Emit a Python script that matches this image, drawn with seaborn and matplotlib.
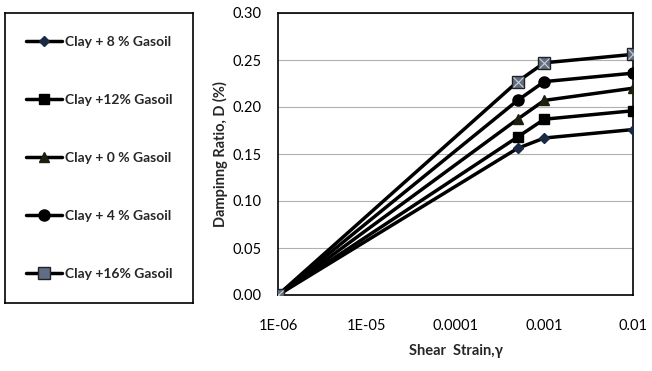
import matplotlib
matplotlib.use("Agg")
import matplotlib.pyplot as plt
import seaborn as sns
import numpy as np
import pandas as pd
from matplotlib.lines import Line2D
from matplotlib.ticker import FixedLocator, FixedFormatter

strain = [1e-6, 5e-4, 1e-3, 1e-2]
labels = ["Clay + 8 % Gasoil", "Clay +12% Gasoil", "Clay + 0 % Gasoil",
          "Clay + 4 % Gasoil", "Clay +16% Gasoil"]
d_8 = [0.0, 0.156, 0.167, 0.176]
d_12 = [0.0, 0.168, 0.187, 0.196]
d_0 = [0.0, 0.187, 0.207, 0.220]
d_4 = [0.0, 0.207, 0.227, 0.236]
d_16 = [0.0, 0.227, 0.247, 0.256]
series = [d_8, d_12, d_0, d_4, d_16]
xtick_vals = [1e-6, 1e-5, 1e-4, 1e-3, 1e-2]
xtick_labels = ["1E-06", "1E-05", "0.0001", "0.001", "0.01"]
ytick_vals = [0.00, 0.05, 0.10, 0.15, 0.20, 0.25, 0.30]

sns.set_style("white")
plt.rcParams["font.family"] = ["Lato", "DejaVu Sans"]

fig = plt.figure(figsize=(6.52, 3.71), dpi=100)
ax = fig.add_axes([278/652, 76/371, 355/652, 282/371])

styles = [
    dict(marker="D", ms=5, mfc="#1a2a44", mec="#1a2a44"),
    dict(marker="s", ms=7.5, mfc="black", mec="black"),
    dict(marker="^", ms=7.5, mfc="#1f1f10", mec="#1f1f10"),
    dict(marker="o", ms=8, mfc="black", mec="black"),
    dict(marker="s", ms=8.5, mfc="#5f6e84", mec="#222222", mew=1.0),
]

rows = []
for lab, vals in zip(labels, series):
    for s, v in zip(strain, vals):
        rows.append({"strain": s, "D": v, "mix": lab})
df = pd.DataFrame(rows)

handles = []
for lab, st in zip(labels, styles):
    sub = df[df["mix"] == lab]
    sns.lineplot(data=sub, x="strain", y="D", ax=ax, color="black", lw=2.5,
                 marker=st["marker"], markersize=st["ms"], markerfacecolor=st["mfc"],
                 markeredgecolor=st["mec"], markeredgewidth=st.get("mew", 1.0),
                 legend=False, zorder=3)
    handles.append(Line2D([], [], color="black", lw=2.5, marker=st["marker"],
                          markersize=st["ms"], markerfacecolor=st["mfc"],
                          markeredgecolor=st["mec"], markeredgewidth=st.get("mew", 1.0)))

# X overlay on the 16% markers
ax.plot(strain, d_16, ls="none", marker="x", ms=6.5, mec="#d0d0d0", mew=0.8, zorder=4)

ax.set_xscale("log")
ax.set_xlim(1e-6, 1e-2)
ax.set_ylim(0, 0.30)
ax.xaxis.set_major_locator(FixedLocator(xtick_vals))
ax.xaxis.set_major_formatter(FixedFormatter(xtick_labels))
ax.xaxis.set_minor_locator(FixedLocator([]))
ax.set_yticks(ytick_vals)
ax.set_yticklabels([f"{v:.2f}" for v in ytick_vals])
ax.tick_params(axis="both", length=0, labelsize=10.5, colors="black")
ax.tick_params(axis="x", pad=17)
ax.tick_params(axis="y", pad=12)
ax.grid(axis="y", color="#b0b0b0", lw=0.8)
ax.grid(axis="x", visible=False)
for sp in ax.spines.values():
    sp.set_color("black")
    sp.set_linewidth(1.2)
ax.set_xlabel("Shear  Strain,\u03b3", fontsize=10.5, fontweight="bold", labelpad=8)
ax.set_ylabel("Dampinng Ratio, D (%)", fontsize=10.5, fontweight="bold", labelpad=3)

# legend panel
lax = fig.add_axes([5/652, 1 - 303/371, 188/652, 290/371])
lax.set_xticks([])
lax.set_yticks([])
for sp in lax.spines.values():
    sp.set_color("black")
    sp.set_linewidth(1.2)
lax.set_facecolor("white")
leg = lax.legend(handles, labels, loc="center", frameon=False,
                 prop={"weight": "bold", "size": 10}, labelspacing=3.3,
                 handlelength=2.6, handletextpad=0.2)

fig.savefig("out.png", dpi=100)
